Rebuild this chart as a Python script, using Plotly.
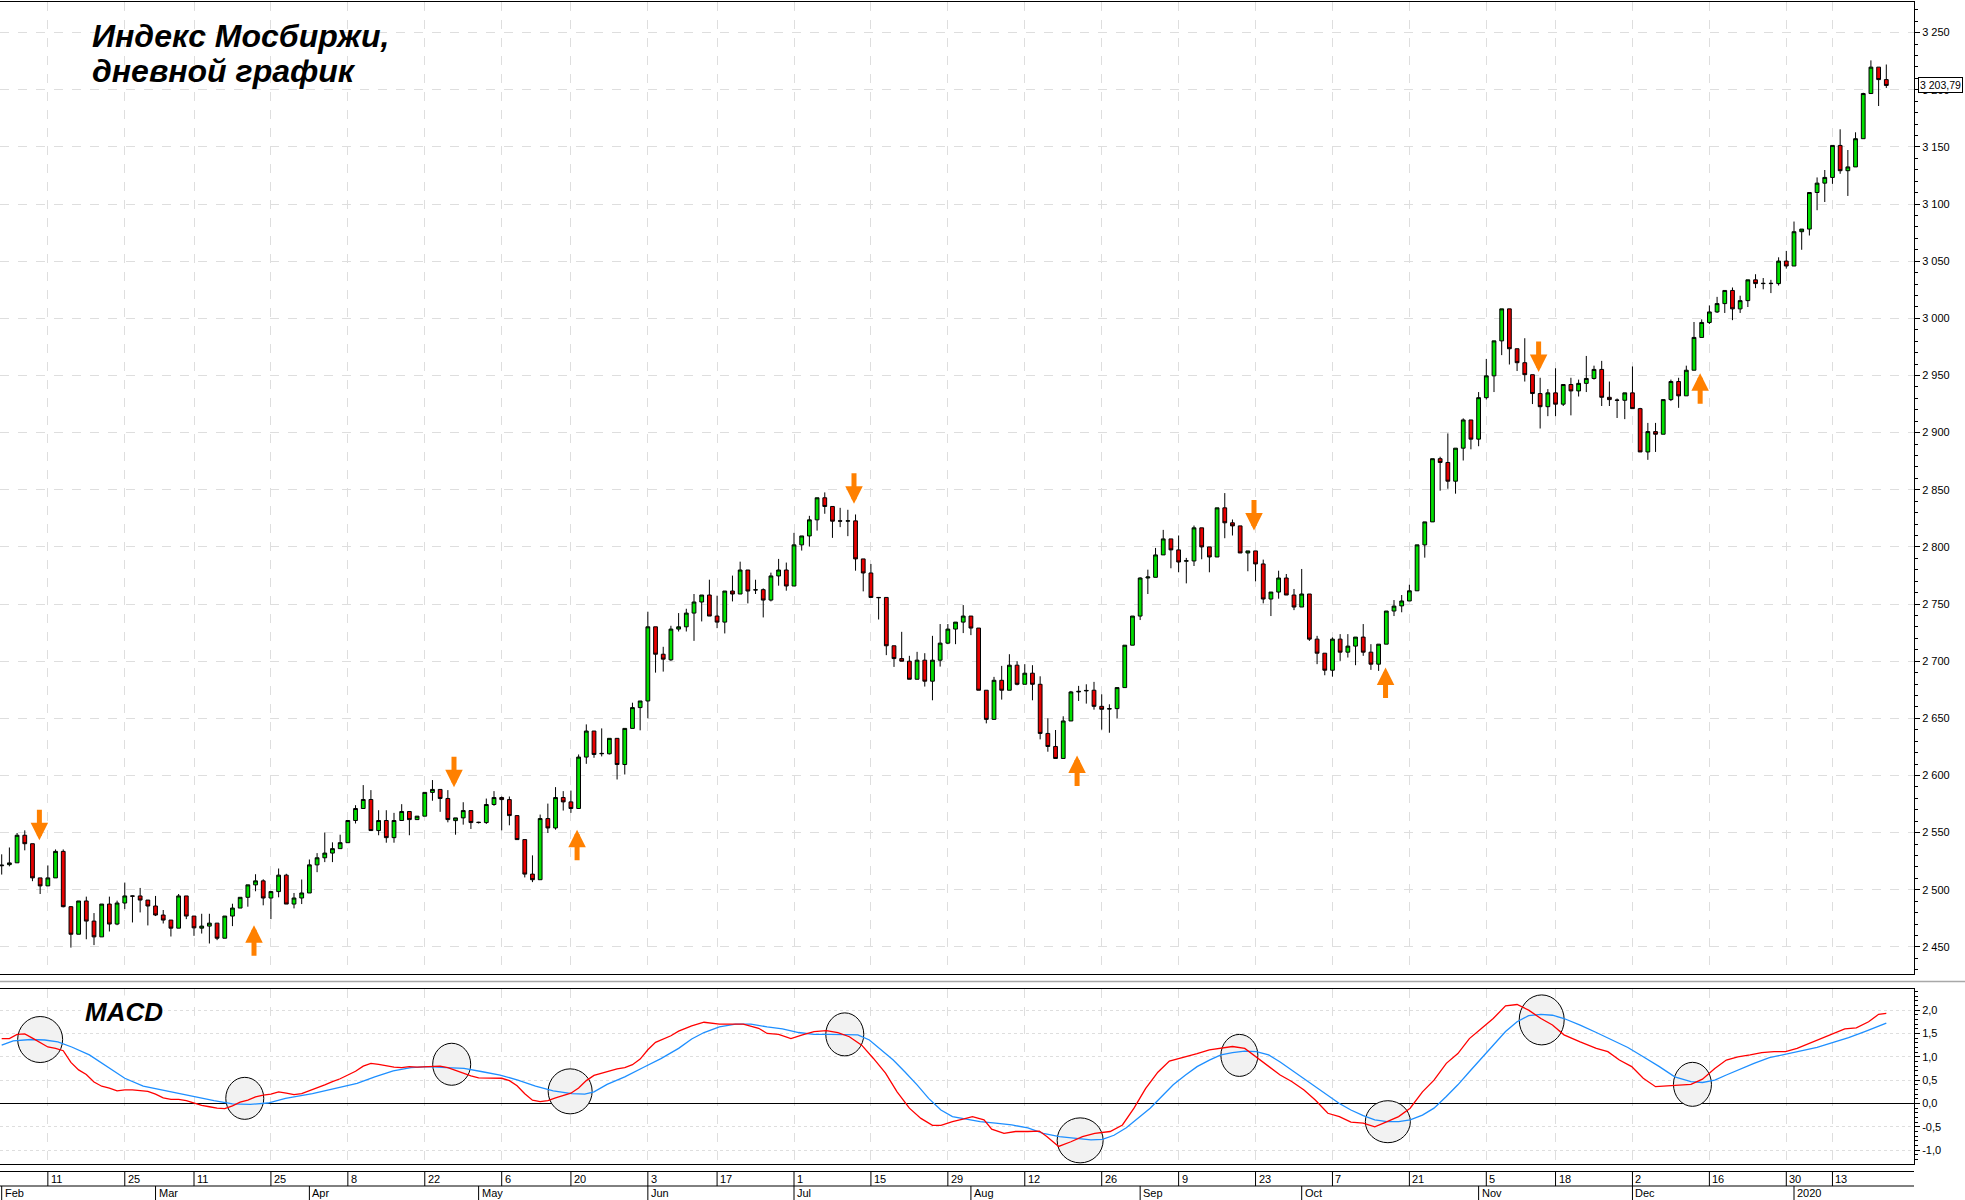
import plotly.graph_objects as go

W, H = 1965, 1200

# ---------------- DATA ----------------
opens = [
2521.0, 2522.0, 2523.6, 2547.7, 2540.3, 2510.4, 2503.4, 2510.4, 2533.6, 2485.2,
2461.1, 2490.2, 2472.6, 2458.8, 2487.5, 2470.0, 2488.4, 2494.6, 2494.6, 2491.0,
2485.8, 2477.9, 2473.5, 2466.4, 2494.6, 2477.0, 2466.4, 2468.2, 2470.8, 2457.6,
2477.0, 2484.0, 2493.4, 2504.3, 2507.8, 2492.8, 2498.4, 2512.8, 2487.5, 2492.8,
2497.2, 2521.8, 2528.0, 2532.1, 2536.0, 2541.2, 2560.6, 2571.1, 2579.0, 2551.8,
2560.6, 2545.6, 2560.6, 2568.5, 2561.4, 2564.4, 2585.2, 2587.8, 2579.9, 2560.5,
2562.9, 2569.3, 2558.8, 2558.8, 2574.6, 2580.7, 2578.9, 2564.9, 2543.9, 2513.7,
2508.8, 2562.3, 2554.1, 2580.7, 2576.9, 2571.1, 2616.1, 2638.9, 2619.0, 2619.0,
2632.5, 2609.6, 2641.2, 2659.4, 2665.2, 2730.1, 2706.1, 2701.2, 2728.1, 2730.1,
2742.1, 2751.8, 2757.9, 2739.5, 2734.2, 2761.4, 2758.8, 2779.8, 2762.3, 2762.6,
2753.5, 2774.6, 2779.8, 2765.8, 2801.8, 2809.6, 2823.7, 2843.0, 2835.4, 2822.8,
2822.6, 2822.8, 2789.5, 2777.2, 2755.8, 2755.8, 2713.5, 2702.3, 2700.0, 2684.2,
2700.9, 2682.5, 2700.9, 2715.8, 2728.1, 2734.2, 2739.5, 2729.0, 2674.6, 2649.1,
2683.3, 2674.6, 2696.5, 2679.8, 2689.5, 2679.8, 2636.8, 2625.4, 2614.9, 2647.7,
2673.1, 2674.0, 2674.6, 2660.5, 2658.1, 2658.5, 2676.9, 2714.0, 2739.5, 2772.8,
2773.4, 2793.0, 2807.0, 2797.4, 2787.5, 2787.7, 2816.7, 2800.0, 2791.2, 2834.2,
2821.1, 2818.4, 2794.7, 2796.5, 2785.1, 2754.4, 2760.5, 2772.8, 2757.9, 2747.4,
2758.8, 2719.3, 2707.0, 2692.1, 2719.3, 2707.9, 2713.2, 2721.1, 2707.9, 2697.4,
2714.9, 2743.9, 2748.4, 2752.7, 2761.6, 2801.8, 2821.9, 2877.2, 2873.9, 2857.5,
2886.4, 2911.1, 2894.3, 2930.6, 2949.7, 2980.3, 3008.3, 2973.4, 2961.2, 2950.7,
2934.2, 2922.7, 2934.8, 2924.9, 2942.1, 2936.5, 2943.1, 2947.4, 2955.3, 2930.9,
2928.5, 2928.3, 2934.8, 2921.0, 2883.1, 2900.9, 2898.6, 2928.9, 2944.7, 2932.2,
2954.6, 2983.3, 2996.4, 3005.6, 3012.9, 3024.4, 3008.3, 3015.5, 3033.7, 3030.4,
3030.4, 3030.4, 3050.1, 3045.8, 3075.8, 3078.1, 3110.1, 3118.3, 3123.3, 3151.3,
3129.2, 3132.5, 3157.2, 3196.7, 3219.8, 3208.9,
]

highs = [
2531.0, 2537.0, 2549.7, 2552.0, 2540.3, 2510.4, 2521.3, 2535.3, 2535.3, 2485.8,
2490.2, 2494.0, 2479.6, 2487.5, 2494.0, 2490.5, 2506.3, 2495.0, 2501.6, 2491.0,
2494.6, 2482.3, 2473.5, 2496.3, 2494.6, 2477.0, 2479.0, 2479.0, 2470.8, 2477.0,
2487.8, 2493.4, 2504.3, 2513.6, 2509.2, 2499.0, 2518.6, 2514.0, 2497.2, 2509.0,
2526.5, 2532.1, 2550.0, 2541.5, 2548.2, 2560.6, 2574.0, 2591.6, 2587.2, 2569.6,
2569.6, 2567.3, 2574.9, 2568.5, 2564.4, 2585.2, 2596.0, 2587.8, 2587.2, 2562.9,
2576.6, 2569.3, 2559.5, 2579.8, 2586.3, 2581.6, 2581.6, 2564.9, 2543.9, 2530.1,
2565.8, 2575.4, 2589.8, 2586.3, 2586.8, 2618.4, 2644.7, 2638.9, 2641.2, 2632.5,
2632.5, 2641.2, 2663.7, 2665.2, 2743.3, 2730.1, 2712.6, 2731.0, 2742.1, 2745.9,
2758.8, 2757.9, 2771.3, 2757.3, 2761.4, 2774.9, 2787.1, 2779.8, 2771.3, 2763.7,
2777.5, 2789.5, 2786.3, 2812.3, 2809.6, 2827.2, 2843.0, 2847.7, 2835.4, 2834.2,
2832.5, 2828.4, 2789.5, 2785.1, 2756.2, 2755.8, 2713.5, 2725.7, 2704.7, 2708.2,
2707.0, 2722.2, 2732.5, 2732.5, 2734.2, 2749.1, 2739.5, 2729.0, 2674.6, 2686.3,
2695.9, 2706.1, 2700.0, 2697.4, 2696.5, 2686.8, 2650.0, 2639.8, 2651.8, 2674.0,
2678.4, 2679.8, 2681.9, 2671.0, 2662.3, 2676.9, 2714.0, 2739.5, 2773.4, 2780.1,
2799.1, 2814.9, 2807.0, 2810.0, 2790.4, 2818.7, 2816.7, 2800.0, 2834.2, 2847.1,
2824.0, 2818.4, 2796.5, 2796.5, 2788.9, 2760.5, 2779.2, 2776.3, 2763.2, 2780.7,
2758.8, 2722.2, 2707.0, 2720.8, 2723.7, 2723.7, 2721.1, 2732.5, 2714.9, 2714.9,
2743.9, 2753.5, 2757.9, 2766.9, 2801.8, 2821.9, 2877.2, 2878.9, 2899.3, 2886.4,
2912.5, 2911.1, 2935.5, 2964.5, 2980.3, 3008.3, 3008.3, 2973.4, 2982.6, 2950.7,
2948.0, 2938.1, 2956.3, 2942.1, 2948.0, 2946.4, 2967.1, 2958.6, 2962.8, 2944.7,
2929.9, 2934.8, 2957.9, 2921.7, 2908.5, 2908.5, 2928.9, 2946.4, 2948.0, 2958.6,
2996.8, 2999.1, 3011.3, 3018.8, 3024.4, 3027.0, 3019.8, 3033.7, 3038.6, 3035.3,
3033.7, 3053.4, 3059.0, 3084.7, 3078.1, 3110.1, 3123.3, 3129.8, 3151.3, 3165.4,
3147.3, 3162.8, 3197.4, 3225.7, 3219.8, 3222.1,
]

lows = [
2513.3, 2520.5, 2523.6, 2534.5, 2507.5, 2496.3, 2503.4, 2510.4, 2484.6, 2449.4,
2461.1, 2456.7, 2451.6, 2458.8, 2463.5, 2469.0, 2483.1, 2471.4, 2480.2, 2468.8,
2477.0, 2470.5, 2459.1, 2466.4, 2474.3, 2459.7, 2461.7, 2453.0, 2455.9, 2457.6,
2468.2, 2484.0, 2485.2, 2498.7, 2486.4, 2474.3, 2493.4, 2487.5, 2483.7, 2487.5,
2497.2, 2515.4, 2524.2, 2524.2, 2536.0, 2541.2, 2558.0, 2571.1, 2551.8, 2547.7,
2541.2, 2541.2, 2560.6, 2547.7, 2561.4, 2564.4, 2577.9, 2568.2, 2559.0, 2548.2,
2557.0, 2553.2, 2558.0, 2557.6, 2573.5, 2552.0, 2556.4, 2543.9, 2510.8, 2506.7,
2508.8, 2549.7, 2552.6, 2569.3, 2567.3, 2571.1, 2610.2, 2615.5, 2616.7, 2618.4,
2596.5, 2600.9, 2641.2, 2639.5, 2650.0, 2690.0, 2690.9, 2700.3, 2726.0, 2726.0,
2717.8, 2734.8, 2739.5, 2728.9, 2724.3, 2752.3, 2758.8, 2750.6, 2758.8, 2738.3,
2752.3, 2766.1, 2761.7, 2765.8, 2796.8, 2800.3, 2814.3, 2829.0, 2807.9, 2817.3,
2809.4, 2779.2, 2761.1, 2755.8, 2736.5, 2705.3, 2695.0, 2700.0, 2684.2, 2684.2,
2677.8, 2665.8, 2695.3, 2714.9, 2714.9, 2724.6, 2722.8, 2674.6, 2645.6, 2649.1,
2666.4, 2674.6, 2678.9, 2679.8, 2665.8, 2631.6, 2620.8, 2614.9, 2614.9, 2647.7,
2665.2, 2662.9, 2657.6, 2640.1, 2637.4, 2650.0, 2676.9, 2714.0, 2736.0, 2758.8,
2773.4, 2793.0, 2781.3, 2777.8, 2768.1, 2783.3, 2789.2, 2777.8, 2791.2, 2807.6,
2810.0, 2794.7, 2778.7, 2769.9, 2750.6, 2739.5, 2754.7, 2757.9, 2744.7, 2747.4,
2717.8, 2697.4, 2687.7, 2686.5, 2700.3, 2703.2, 2696.5, 2704.7, 2692.4, 2691.5,
2714.9, 2739.5, 2742.8, 2752.7, 2761.6, 2790.6, 2821.9, 2849.2, 2850.9, 2846.6,
2875.6, 2885.4, 2888.1, 2929.0, 2935.5, 2967.8, 2959.6, 2953.9, 2944.7, 2925.0,
2903.6, 2914.4, 2914.4, 2923.3, 2915.1, 2931.6, 2935.5, 2946.4, 2923.3, 2923.3,
2912.8, 2911.8, 2921.0, 2883.1, 2876.2, 2883.1, 2898.6, 2927.6, 2921.7, 2932.2,
2954.6, 2983.3, 2995.0, 3004.7, 3004.7, 2998.4, 3004.7, 3009.9, 3026.4, 3025.4,
3022.1, 3028.7, 3043.5, 3045.8, 3060.0, 3072.5, 3094.6, 3101.8, 3117.7, 3126.5,
3107.1, 3132.5, 3157.2, 3196.7, 3185.8, 3201.6,
]

closes = [
2521.5, 2523.5, 2547.7, 2540.3, 2510.4, 2503.4, 2510.4, 2533.6, 2485.2, 2461.1,
2490.2, 2472.6, 2458.8, 2487.5, 2470.0, 2488.4, 2494.6, 2494.4, 2491.0, 2485.8,
2477.9, 2473.5, 2466.4, 2494.6, 2477.0, 2466.7, 2468.2, 2470.8, 2457.6, 2477.0,
2484.0, 2493.4, 2504.3, 2507.8, 2492.8, 2498.4, 2512.8, 2487.5, 2492.8, 2497.2,
2521.8, 2528.0, 2532.1, 2536.0, 2541.2, 2560.6, 2571.1, 2579.0, 2551.8, 2560.6,
2545.6, 2560.6, 2568.5, 2561.4, 2564.4, 2585.2, 2587.8, 2579.9, 2561.4, 2562.9,
2569.3, 2558.8, 2559.0, 2574.6, 2580.7, 2578.9, 2564.9, 2543.9, 2513.7, 2508.8,
2562.3, 2554.1, 2580.7, 2576.9, 2571.1, 2616.1, 2638.9, 2618.4, 2619.3, 2632.5,
2609.6, 2641.2, 2659.4, 2665.2, 2730.1, 2706.1, 2701.8, 2728.1, 2730.1, 2742.1,
2751.8, 2757.9, 2739.5, 2734.2, 2761.4, 2758.8, 2779.8, 2761.4, 2762.5, 2753.5,
2774.6, 2779.8, 2765.8, 2801.8, 2809.6, 2823.7, 2843.0, 2835.4, 2822.5, 2822.6,
2822.8, 2789.5, 2777.2, 2755.8, 2755.6, 2713.5, 2702.3, 2700.0, 2684.2, 2700.9,
2682.5, 2700.9, 2715.8, 2728.1, 2734.2, 2739.5, 2729.0, 2674.6, 2649.1, 2683.3,
2674.6, 2696.5, 2679.8, 2689.5, 2679.8, 2636.8, 2625.4, 2614.9, 2647.7, 2673.1,
2673.6, 2674.4, 2660.5, 2657.9, 2658.5, 2676.9, 2714.0, 2739.5, 2772.8, 2773.7,
2793.0, 2807.0, 2797.4, 2786.8, 2787.9, 2816.7, 2800.0, 2791.2, 2834.2, 2821.1,
2818.4, 2794.7, 2796.5, 2785.1, 2754.4, 2760.5, 2772.8, 2757.9, 2747.4, 2758.8,
2719.3, 2707.0, 2692.1, 2719.3, 2707.9, 2713.2, 2721.1, 2707.9, 2697.4, 2714.9,
2743.9, 2748.2, 2752.7, 2761.6, 2801.8, 2821.9, 2877.2, 2873.9, 2857.5, 2886.4,
2911.1, 2894.3, 2930.6, 2949.7, 2980.3, 3008.3, 2973.4, 2961.2, 2950.7, 2934.2,
2922.7, 2934.8, 2924.9, 2942.1, 2936.5, 2943.1, 2947.4, 2955.3, 2930.9, 2928.9,
2928.3, 2934.8, 2921.0, 2883.1, 2900.9, 2898.6, 2928.9, 2944.7, 2932.2, 2954.6,
2983.3, 2996.4, 3005.6, 3012.9, 3024.4, 3008.3, 3015.5, 3033.7, 3030.4, 3030.6,
3030.6, 3050.1, 3045.8, 3075.8, 3078.1, 3110.1, 3118.3, 3123.3, 3151.3, 3129.2,
3132.5, 3157.2, 3196.7, 3219.8, 3208.9, 3203.79,
]

# MACD (red) and signal (blue) lines (x = trading-day index)
macd_x = list(range(0, 89)) + [
    89.7, 91.3, 93.3, 94.9, 96.4, 98.4, 99.5, 101.0, 102.6, 104.1, 105.6, 107.2, 108.7,
    110.2, 111.8, 113.3, 114.9, 116.4, 118.0, 119.5, 121.0, 122.1, 123.6, 125.1, 126.2,
    127.7, 128.7, 130.3, 131.8, 133.4, 134.9, 135.9, 137.4, 139.0, 140.5, 142.1, 144.1,
    145.7, 147.2, 148.7, 150.3, 151.8, 153.9, 155.4, 157.0, 158.5, 160.0, 161.6, 163.1,
    164.7, 166.2, 167.7, 169.3, 170.8, 172.4, 173.9, 175.4, 177.0, 178.5, 180.1, 181.6,
    183.1, 184.7, 186.2, 187.8, 189.3, 190.8, 192.4, 193.9, 195.5, 197.0, 198.5, 200.1,
    201.6, 203.1, 205.2, 207.3, 208.8, 210.3, 211.9, 213.4, 215.0, 216.5, 218.0, 219.6,
    221.1, 222.7, 224.2, 225.7, 227.3, 228.8, 230.4, 231.9, 233.4, 235.0, 236.5, 238.1,
    239.6, 241.1, 242.7, 244.0, 245.0]
macd_v = [
    1.39, 1.39, 1.48, 1.49, 1.40, 1.31, 1.21, 1.18, 1.13, 0.88,
    0.72, 0.62, 0.46, 0.37, 0.33, 0.27, 0.29, 0.29, 0.28, 0.26,
    0.20, 0.12, 0.09, 0.09, 0.06, 0.01, -0.04, -0.07, -0.10, -0.11,
    -0.05, 0.03, 0.07, 0.14, 0.18, 0.20, 0.25, 0.22, 0.19, 0.21,
    0.27, 0.34, 0.40, 0.47, 0.53, 0.61, 0.69, 0.80, 0.86, 0.84,
    0.81, 0.78, 0.77, 0.79, 0.78, 0.79, 0.80, 0.80, 0.77, 0.71,
    0.66, 0.59, 0.55, 0.55, 0.55, 0.54, 0.49, 0.38, 0.21, 0.07,
    0.04, 0.06, 0.12, 0.17, 0.22, 0.33, 0.49, 0.60, 0.65, 0.69,
    0.74, 0.77, 0.83, 0.95, 1.15, 1.31, 1.38, 1.45, 1.55,
    1.66, 1.74, 1.70, 1.70, 1.70, 1.61, 1.50, 1.48, 1.39, 1.47, 1.54, 1.56, 1.52,
    1.43, 1.25, 0.97, 0.65, 0.25, -0.10, -0.32, -0.47, -0.47, -0.39, -0.33, -0.28,
    -0.35, -0.55, -0.64, -0.60, -0.60, -0.59, -0.71, -0.92, -0.82, -0.71, -0.64, -0.60,
    -0.46, -0.10, 0.32, 0.67, 0.91, 1.00, 1.07, 1.15, 1.18, 1.22, 1.18, 1.00,
    0.79, 0.61, 0.47, 0.29, 0.07, -0.21, -0.28, -0.40, -0.42, -0.50, -0.39, -0.28,
    -0.10, 0.25, 0.50, 0.86, 1.07, 1.39, 1.61, 1.82, 2.09, 2.12, 2.00, 1.82,
    1.68, 1.47, 1.32, 1.18, 1.11, 0.93, 0.79, 0.54, 0.36, 0.38, 0.40, 0.41,
    0.52, 0.75, 0.93, 1.00, 1.04, 1.09, 1.11, 1.11, 1.18, 1.29, 1.39, 1.50,
    1.60, 1.62, 1.75, 1.91, 1.93]

signal_x = [
    0, 1.5, 3.8, 5.6, 7.3, 9.1, 11.4, 13.7, 16.0, 18.4, 20.7, 23.0, 25.3, 27.6, 30.0,
    32.3, 34.6, 36.9, 40.4, 43.9, 46.2, 48.5, 50.9, 53.2, 55.5, 57.8, 60.1, 62.5, 64.8,
    67.1, 69.4, 71.7, 74.1, 75.8, 77.0, 78.7, 81.0, 83.4, 85.7, 88.0, 89.7, 91.3, 93.3,
    95.4, 97.4, 99.5, 101.5, 103.6, 105.6, 107.7, 109.7, 111.3, 112.8, 114.4, 115.9,
    117.4, 119.0, 120.5, 122.1, 123.6, 125.1, 127.2, 129.2, 131.3, 133.4, 135.4, 137.5,
    139.5, 141.6, 143.1, 144.6, 146.2, 147.7, 149.3, 150.8, 152.3, 153.9, 155.4, 157.0,
    158.5, 160.0, 161.6, 163.1, 164.7, 166.2, 167.7, 169.3, 170.8, 172.4, 173.9, 175.4,
    177.0, 178.5, 180.1, 181.6, 183.1, 184.7, 186.2, 187.8, 189.3, 190.8, 192.4, 193.9,
    195.5, 197.0, 198.5, 200.1, 201.6, 203.1, 205.2, 207.3, 209.3, 211.4, 213.4, 215.5,
    217.5, 219.6, 221.1, 222.7, 224.2, 225.7, 227.8, 229.8, 231.9, 233.9, 236.0, 238.1,
    240.1, 242.2, 244.2, 245.0]
signal_v = [
    1.25, 1.34, 1.37, 1.36, 1.32, 1.21, 1.04, 0.79, 0.54, 0.37, 0.29, 0.21, 0.14, 0.06, -0.01,
    -0.02, 0.01, 0.11, 0.21, 0.34, 0.43, 0.57, 0.70, 0.77, 0.79, 0.77, 0.75, 0.68, 0.61,
    0.50, 0.37, 0.27, 0.21, 0.20, 0.25, 0.41, 0.57, 0.77, 0.96, 1.18, 1.38, 1.52, 1.64,
    1.70, 1.70, 1.64, 1.60, 1.52, 1.48, 1.48, 1.48, 1.47, 1.36, 1.14, 0.93,
    0.68, 0.40, 0.11, -0.14, -0.28, -0.33, -0.39, -0.42, -0.46, -0.52, -0.64, -0.71,
    -0.75, -0.78, -0.77, -0.68, -0.52, -0.32, -0.10, 0.15, 0.40, 0.61, 0.79, 0.93,
    1.04, 1.09, 1.12, 1.11, 1.04, 0.89, 0.72, 0.54, 0.36, 0.18, 0.00, -0.14,
    -0.26, -0.35, -0.39, -0.39, -0.35, -0.25, -0.10, 0.15, 0.40, 0.68, 0.97, 1.25,
    1.54, 1.75, 1.88, 1.91, 1.89, 1.82, 1.68, 1.52, 1.36, 1.20, 1.00, 0.79,
    0.57, 0.47, 0.45, 0.50, 0.61, 0.72, 0.86, 0.98, 1.05, 1.12, 1.20, 1.31,
    1.41, 1.54, 1.67, 1.72]

# Date axis (trading-day index of each labelled day / month start)
day_tick_idx = [6, 16, 25, 35, 45, 55, 65, 74, 84, 93, 103, 113, 123, 133, 143, 153, 163,
                173, 183, 193, 202, 212, 222, 232, 238]
day_tick_lbl = ['11', '25', '11', '25', '8', '22', '6', '20', '3', '17', '1', '15', '29',
                '12', '26', '9', '23', '7', '21', '5', '18', '2', '16', '30', '13']
month_idx = [0, 20, 40, 62, 84, 103, 126, 148, 169, 192, 212, 233]
month_lbl = ['Feb', 'Mar', 'Apr', 'May', 'Jun', 'Jul', 'Aug', 'Sep', 'Oct', 'Nov', 'Dec', '2020']

price_tick_vals = [2450, 2500, 2550, 2600, 2650, 2700, 2750, 2800, 2850, 2900, 2950,
                   3000, 3050, 3100, 3150, 3200, 3250]
price_tick_text = ['2 450', '2 500', '2 550', '2 600', '2 650', '2 700', '2 750', '2 800',
                   '2 850', '2 900', '2 950', '3 000', '3 050', '3 100', '3 150', '3 200', '3 250']
macd_tick_vals = [-1.0, -0.5, 0.0, 0.5, 1.0, 1.5, 2.0]
macd_tick_text = ['-1,0', '-0,5', '0,0', '0,5', '1,0', '1,5', '2,0']

# Signal arrows on the price chart: (day index, price at arrow tip, direction)
arrow_idx = [4.9, 32.8, 58.8, 74.8, 110.8, 139.8, 162.8, 179.9, 199.8, 220.8]
arrow_tip = [2543.3, 2469.0, 2589.8, 2552.6, 2837.7, 2617.5, 2814.3, 2694.4, 2953.0, 2952.0]
arrow_dir = ['down', 'up', 'down', 'up', 'down', 'up', 'down', 'up', 'down', 'up']

# MACD crossover markers: (day index, MACD value)
cross_idx = [5.0, 31.6, 58.5, 73.9, 109.6, 140.2, 160.9, 180.2, 200.2, 219.8]
cross_val = [1.37, 0.11, 0.84, 0.26, 1.48, -0.79, 1.03, -0.39, 1.79, 0.41]

last_price = closes[-1]
last_price_text = '3 203,79'

# ---------------- STYLE / LAYOUT ----------------
CIRCLE_PX = [(45, 46), (38, 42), (38, 42), (44, 45), (38, 43), (46, 45), (37, 42),
             (45, 42), (45, 50), (38, 44)]
FONT = 'Liberation Sans'
GREEN = '#00E000'
RED = '#E80000'
ORANGE = '#FF8000'
GRID = '#dedede'


def py(y_px):
    return 1 - y_px / H


X_RIGHT = 1914 / W
xs = list(range(len(closes)))
x_range = [-0.22, 248.6]

fig = go.Figure()
fig.add_trace(go.Candlestick(
    x=xs, open=opens, high=highs, low=lows, close=closes,
    xaxis='x', yaxis='y',
    increasing=dict(fillcolor=GREEN, line=dict(color='black', width=1)),
    decreasing=dict(fillcolor=RED, line=dict(color='black', width=1)),
    whiskerwidth=0, hoverinfo='skip', showlegend=False,
))
fig.add_trace(go.Scatter(x=signal_x, y=signal_v, mode='lines', xaxis='x2', yaxis='y2',
                         line=dict(color='#1E8FFF', width=1.3), hoverinfo='skip',
                         showlegend=False))
fig.add_trace(go.Scatter(x=macd_x, y=macd_v, mode='lines', xaxis='x2', yaxis='y2',
                         line=dict(color='#FF0000', width=1.3), hoverinfo='skip',
                         showlegend=False))

shapes = []
annotations = []

# white box behind title
shapes.append(dict(type='rect', xref='paper', yref='paper', x0=80 / W, x1=398 / W,
                   y0=py(92), y1=py(14), fillcolor='white', line=dict(width=0),
                   layer='between'))
annotations.append(dict(text='<b><i>Индекс Мосбиржи,</i></b>', xref='paper', yref='paper',
                        x=90 / W, y=py(36), xanchor='left', yanchor='middle',
                        showarrow=False, font=dict(family=FONT, size=32, color='black')))
annotations.append(dict(text='<b><i>дневной график</i></b>', xref='paper', yref='paper',
                        x=90 / W, y=py(71), xanchor='left', yanchor='middle',
                        showarrow=False, font=dict(family=FONT, size=32, color='black')))
annotations.append(dict(text='<b><i>MACD</i></b>', xref='paper', yref='paper',
                        x=83 / W, y=py(1012), xanchor='left', yanchor='middle',
                        showarrow=False, bgcolor='white',
                        font=dict(family=FONT, size=26, color='black')))

# arrows
for xi, tip, d in zip(arrow_idx, arrow_tip, arrow_dir):
    annotations.append(dict(x=xi, y=tip, xref='x', yref='y', text='', showarrow=True,
                            ax=0, ay=-32 if d == 'down' else 32,
                            arrowhead=2, arrowsize=0.7, arrowwidth=5,
                            arrowcolor=ORANGE, font=dict(size=1)))

# crossover ellipses
for (cx, cv), (wpx, hpx) in zip(zip(cross_idx, cross_val), CIRCLE_PX):
    shapes.append(dict(type='circle', xref='x2', yref='y2', xsizemode='pixel',
                       ysizemode='pixel', xanchor=cx, yanchor=cv,
                       x0=-wpx / 2, x1=wpx / 2, y0=-hpx / 2, y1=hpx / 2,
                       fillcolor='#f2f2f2', line=dict(color='black', width=1),
                       layer='between'))

# last price box
annotations.append(dict(text=last_price_text, xref='paper', yref='y', x=1918 / W,
                        y=last_price, xanchor='left', yanchor='middle', showarrow=False,
                        bgcolor='white', bordercolor='black', borderwidth=1, borderpad=1,
                        font=dict(family=FONT, size=10.5, color='black')))

# separator between panels
shapes.append(dict(type='line', xref='paper', yref='paper', x0=0, x1=1, y0=py(981.5),
                   y1=py(981.5), line=dict(color='#a8a8a8', width=1.5)))

# date axis rows
for yy in (1171.5, 1186):
    shapes.append(dict(type='line', xref='paper', yref='paper', x0=0, x1=X_RIGHT,
                       y0=py(yy), y1=py(yy), line=dict(color='black', width=1)))
for xi, lbl in zip(day_tick_idx, day_tick_lbl):
    shapes.append(dict(type='line', xref='x2', yref='paper', x0=xi, x1=xi,
                       y0=py(1171.5), y1=py(1186), line=dict(color='black', width=1)))
    annotations.append(dict(text=lbl, xref='x2', yref='paper', x=xi, y=py(1178.8),
                            xanchor='left', yanchor='middle', xshift=1, showarrow=False,
                            font=dict(family=FONT, size=11, color='black')))
for xi, lbl in zip(month_idx, month_lbl):
    shapes.append(dict(type='line', xref='x2', yref='paper', x0=xi, x1=xi,
                       y0=py(1186), y1=py(1200), line=dict(color='black', width=1)))
    annotations.append(dict(text=lbl, xref='x2', yref='paper', x=xi, y=py(1193),
                            xanchor='left', yanchor='middle', xshift=1, showarrow=False,
                            font=dict(family=FONT, size=11, color='black')))

axis_x_common = dict(range=x_range, domain=[0, X_RIGHT], showticklabels=False, ticks='',
                     tickmode='array', tickvals=day_tick_idx, showgrid=True,
                     gridcolor=GRID, griddash='dash', gridwidth=1, zeroline=False,
                     showline=True, mirror=True, linecolor='black', linewidth=1,
                     fixedrange=True)

fig.update_layout(
    width=W, height=H, margin=dict(l=0, r=0, t=0, b=0),
    paper_bgcolor='white', plot_bgcolor='white', showlegend=False, hovermode=False,
    font=dict(family=FONT, size=11, color='black'),
    boxgap=0.3,
    xaxis=dict(anchor='y', rangeslider=dict(visible=False), **axis_x_common),
    xaxis2=dict(anchor='y2', matches='x', **axis_x_common),
    yaxis=dict(anchor='x', side='right', domain=[py(974), py(2)], range=[2426.3, 3276.8],
               tickmode='array', tickvals=price_tick_vals, ticktext=price_tick_text,
               ticks='outside', ticklen=5, tickcolor='black', tickwidth=1,
               minor=dict(tickmode='linear', tick0=2450, dtick=10, ticks='outside',
                          ticklen=3, tickcolor='black', showgrid=False),
               showgrid=True, gridcolor=GRID, griddash='dash', zeroline=False,
               showline=True, linecolor='black', linewidth=1,
               tickfont=dict(family=FONT, size=11, color='black'), fixedrange=True),
    yaxis2=dict(anchor='x2', side='right', domain=[py(1164), py(989)], range=[-1.296, 2.452],
                tickmode='array', tickvals=macd_tick_vals, ticktext=macd_tick_text,
                ticks='outside', ticklen=5, tickcolor='black', tickwidth=1,
                minor=dict(tickmode='linear', tick0=0, dtick=0.1, ticks='outside',
                           ticklen=3, tickcolor='black', showgrid=False),
                showgrid=True, gridcolor=GRID, griddash='dot', zeroline=True,
                zerolinecolor='black', zerolinewidth=1,
                showline=True, linecolor='black', linewidth=1,
                tickfont=dict(family=FONT, size=11, color='black'), fixedrange=True),
    shapes=shapes,
    annotations=annotations,
)

fig.write_html('out.html',
               config={'displayModeBar': False},
               post_script="document.body.style.margin='0px';"
                           "document.body.style.overflow='hidden';")
